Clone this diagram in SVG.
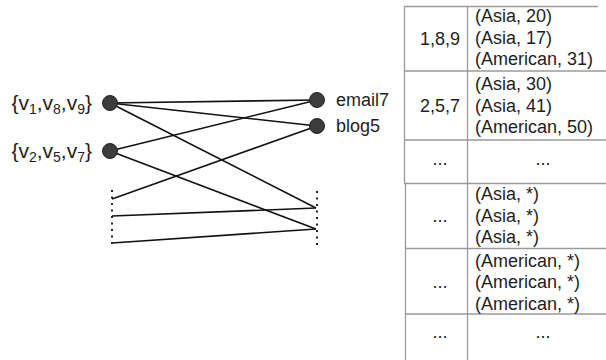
<svg xmlns="http://www.w3.org/2000/svg" width="606" height="360" viewBox="0 0 606 360">
  <style>
    text { font-family: "Liberation Sans", Arial, sans-serif; font-size: 18px; fill: #1e1e1e; }
    .grp { font-size: 21px; }
    .sub { font-size: 14px; }
    .edge { stroke: #111; stroke-width: 1.6; fill: none; }
    .dots { stroke: #222; stroke-width: 2; stroke-dasharray: 2 4.5; fill: none; }
    .node { fill: #3c3c3c; stroke: #222; stroke-width: 1; }
    .grid { stroke: #9a9a9a; stroke-width: 1.3; fill: none; }
    .mid { text-anchor: middle; }
  </style>

  <!-- connectors between group nodes and content nodes -->
  <g id="connectors">
    <line class="edge" x1="110" y1="103" x2="317" y2="100"/>
    <line class="edge" x1="110" y1="103" x2="317" y2="126"/>
    <line class="edge" x1="110" y1="103" x2="316" y2="208"/>
    <line class="edge" x1="110" y1="151" x2="317" y2="100"/>
    <line class="edge" x1="110" y1="151" x2="316" y2="229"/>
    <line class="edge" x1="112" y1="199" x2="317" y2="126"/>
    <line class="edge" x1="112" y1="216" x2="316" y2="208"/>
    <line class="edge" x1="112" y1="243" x2="316" y2="229"/>
    <line class="dots" x1="112" y1="190" x2="112" y2="248"/>
    <line class="dots" x1="317" y1="191" x2="317" y2="249"/>
  </g>

  <g id="group-v1-v8-v9">
    <circle class="node" cx="110" cy="103" r="7.5"/>
    <text class="grp" x="92" y="110" text-anchor="end">{v<tspan class="sub" dy="4">1</tspan><tspan dy="-4">,v</tspan><tspan class="sub" dy="4">8</tspan><tspan dy="-4">,v</tspan><tspan class="sub" dy="4">9</tspan><tspan dy="-4">}</tspan></text>
  </g>
  <g id="group-v2-v5-v7">
    <circle class="node" cx="110" cy="151" r="7.5"/>
    <text class="grp" x="92" y="158" text-anchor="end">{v<tspan class="sub" dy="4">2</tspan><tspan dy="-4">,v</tspan><tspan class="sub" dy="4">5</tspan><tspan dy="-4">,v</tspan><tspan class="sub" dy="4">7</tspan><tspan dy="-4">}</tspan></text>
  </g>
  <g id="email7">
    <circle class="node" cx="317" cy="100" r="7.5"/>
    <text x="336" y="106">email7</text>
  </g>
  <g id="blog5">
    <circle class="node" cx="317" cy="126" r="7.5"/>
    <text x="336" y="132">blog5</text>
  </g>

  <!-- upper table: groups with their tuples -->
  <g id="table-upper">
    <line class="grid" x1="404.5" y1="6.5" x2="598" y2="6.5"/>
    <line class="grid" x1="404.5" y1="6" x2="404.5" y2="183.5"/>
    <line class="grid" x1="467.5" y1="6" x2="467.5" y2="183.5"/>
    <line class="grid" x1="404.5" y1="71" x2="606" y2="71"/>
    <line class="grid" x1="404.5" y1="140" x2="606" y2="140"/>
    <text class="mid" x="440" y="45">1,8,9</text>
    <text x="475" y="22">(Asia, 20)</text>
    <text x="475" y="43.5">(Asia, 17)</text>
    <text x="475" y="65">(American, 31)</text>
    <text class="mid" x="440" y="112">2,5,7</text>
    <text x="475" y="90">(Asia, 30)</text>
    <text x="475" y="111.5">(Asia, 41)</text>
    <text x="475" y="133">(American, 50)</text>
    <text class="mid" x="440" y="165">...</text>
    <text class="mid" x="543" y="165">...</text>
  </g>

  <!-- lower table: generalised tuples -->
  <g id="table-lower">
    <line class="grid" x1="404" y1="183.5" x2="606" y2="183.5"/>
    <line class="grid" x1="405.5" y1="183" x2="405.5" y2="360"/>
    <line class="grid" x1="467.5" y1="183" x2="467.5" y2="360"/>
    <line class="grid" x1="405.5" y1="248.5" x2="606" y2="248.5"/>
    <line class="grid" x1="405.5" y1="314" x2="606" y2="314"/>
    <text class="mid" x="440" y="222">...</text>
    <text x="475" y="200">(Asia, *)</text>
    <text x="475" y="221.5">(Asia, *)</text>
    <text x="475" y="243">(Asia, *)</text>
    <text class="mid" x="440" y="288">...</text>
    <text x="475" y="266.5">(American, *)</text>
    <text x="475" y="288">(American, *)</text>
    <text x="475" y="309.5">(American, *)</text>
    <text class="mid" x="440" y="338">...</text>
    <text class="mid" x="543" y="338">...</text>
  </g>
</svg>
